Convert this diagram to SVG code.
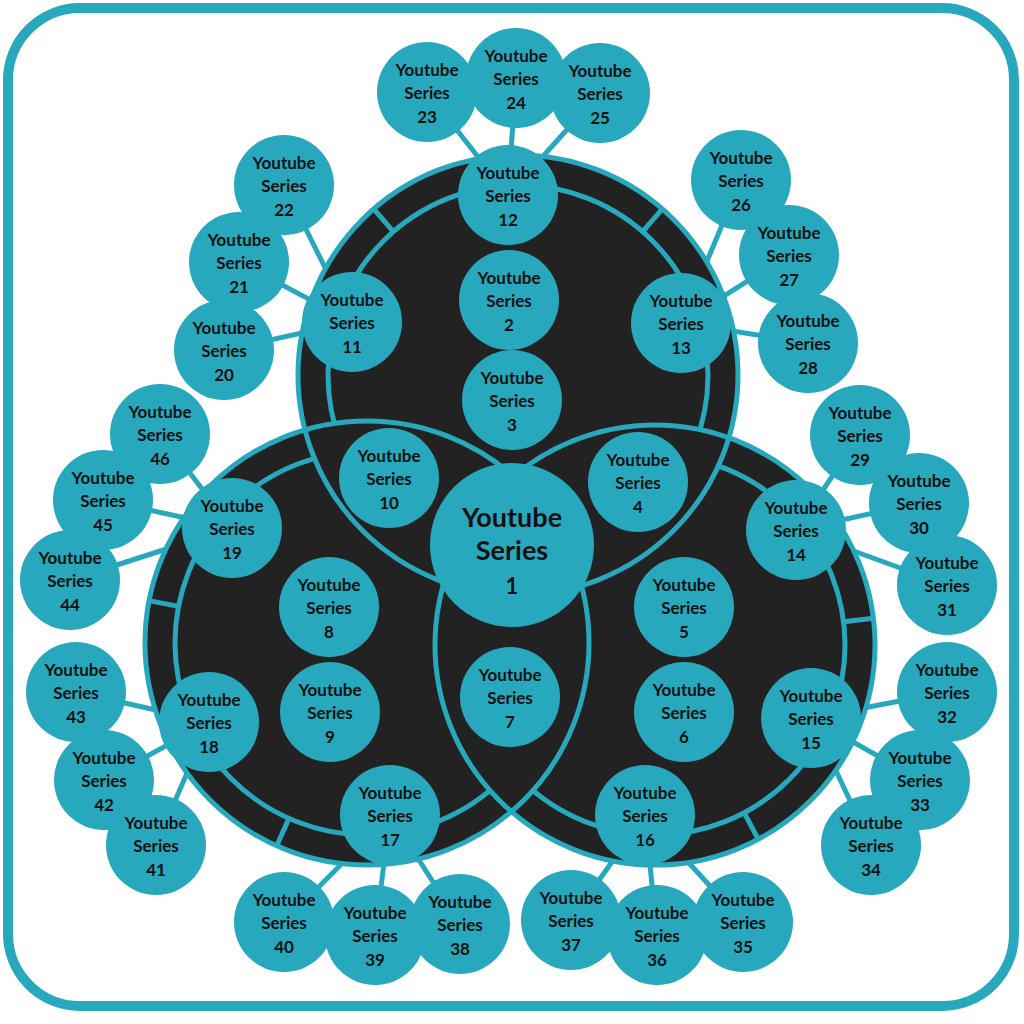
<svg xmlns="http://www.w3.org/2000/svg" width="1024" height="1024" viewBox="0 0 1024 1024">
<style>
.n{fill:#27a8bd}
.t{font-family:Lato,"Open Sans",sans-serif;font-weight:bold;font-size:17px;fill:#111;text-anchor:middle}
.big{fill:#222}
.ring{fill:none;stroke:#27a8bd;stroke-width:5}
.seg{stroke:#27a8bd;stroke-width:5}
.c line{stroke:#27a8bd;stroke-width:5}
</style>
<defs>
<mask id="mT"><rect width="1024" height="1024" fill="#fff"/><circle cx="367" cy="643" r="222"/><circle cx="655" cy="645" r="220"/></mask>
<mask id="mL"><rect width="1024" height="1024" fill="#fff"/><circle cx="518" cy="375" r="220"/><circle cx="655" cy="645" r="220"/></mask>
<mask id="mR"><rect width="1024" height="1024" fill="#fff"/><circle cx="518" cy="375" r="220"/><circle cx="367" cy="643" r="222"/></mask>
</defs>
<rect width="1024" height="1024" fill="#fff"/>
<rect x="8" y="8" width="1006" height="998" rx="72" fill="none" stroke="#27a8bd" stroke-width="10"/>
<g class="c">
<line x1="427" y1="92" x2="508" y2="195"/><line x1="516" y1="78" x2="508" y2="195"/><line x1="600" y1="93" x2="508" y2="195"/>
<line x1="224" y1="350" x2="352" y2="322"/><line x1="239" y1="262" x2="352" y2="322"/><line x1="284" y1="185" x2="352" y2="322"/>
<line x1="741" y1="180" x2="681" y2="323"/><line x1="789" y1="255" x2="681" y2="323"/><line x1="808" y1="343" x2="681" y2="323"/>
<line x1="860" y1="435" x2="796" y2="530"/><line x1="919" y1="503" x2="796" y2="530"/><line x1="947" y1="585" x2="796" y2="530"/>
<line x1="947" y1="692" x2="811" y2="718"/><line x1="920" y1="780" x2="811" y2="718"/><line x1="871" y1="845" x2="811" y2="718"/>
<line x1="743" y1="922" x2="645" y2="815"/><line x1="657" y1="935" x2="645" y2="815"/><line x1="571" y1="920" x2="645" y2="815"/>
<line x1="460" y1="924" x2="390" y2="815"/><line x1="375" y1="935" x2="390" y2="815"/><line x1="284" y1="922" x2="390" y2="815"/>
<line x1="156" y1="845" x2="209" y2="722"/><line x1="104" y1="780" x2="209" y2="722"/><line x1="76" y1="692" x2="209" y2="722"/>
<line x1="70" y1="580" x2="232" y2="528"/><line x1="103" y1="500" x2="232" y2="528"/><line x1="160" y1="434" x2="232" y2="528"/>
</g>
<g id="circles">
<circle class="big" cx="518" cy="375" r="220"/>
<circle class="big" cx="367" cy="643" r="222"/>
<circle class="big" cx="655" cy="645" r="220"/>
<circle class="ring" cx="518" cy="375" r="220"/>
<circle class="ring" cx="367" cy="643" r="222"/>
<circle class="ring" cx="655" cy="645" r="220"/>
<circle class="ring" cx="518" cy="375" r="190" mask="url(#mT)"/>
<circle class="ring" cx="367" cy="643" r="192" mask="url(#mL)"/>
<circle class="ring" cx="655" cy="645" r="190" mask="url(#mR)"/>
<g transform="translate(518 375)"><line class="seg" x1="190" y1="0" x2="220" y2="0" transform="rotate(-131)"/><line class="seg" x1="190" y1="0" x2="220" y2="0" transform="rotate(-49)"/></g>
<g transform="translate(367 643)"><line class="seg" x1="192" y1="0" x2="222" y2="0" transform="rotate(191)"/><line class="seg" x1="192" y1="0" x2="222" y2="0" transform="rotate(114)"/></g>
<g transform="translate(655 645)"><line class="seg" x1="190" y1="0" x2="220" y2="0" transform="rotate(62)"/><line class="seg" x1="190" y1="0" x2="220" y2="0" transform="rotate(-7)"/></g>
</g>
<g id="n1"><circle class="n" cx="512" cy="545" r="82"/><text class="t" style="font-size:27px" x="512" y="527">Youtube</text><text class="t" style="font-size:27px" x="512" y="560">Series</text><text class="t" style="font-size:22px" x="512" y="594">1</text></g>
<g id="n2"><circle class="n" cx="509" cy="300" r="50"/><text class="t" x="509" y="284">Youtube</text><text class="t" x="509" y="307">Series</text><text class="t" x="509" y="331">2</text></g>
<g id="n3"><circle class="n" cx="512" cy="400" r="50"/><text class="t" x="512" y="384">Youtube</text><text class="t" x="512" y="407">Series</text><text class="t" x="512" y="431">3</text></g>
<g id="n4"><circle class="n" cx="638" cy="482" r="50"/><text class="t" x="638" y="466">Youtube</text><text class="t" x="638" y="489">Series</text><text class="t" x="638" y="513">4</text></g>
<g id="n5"><circle class="n" cx="684" cy="607" r="50"/><text class="t" x="684" y="591">Youtube</text><text class="t" x="684" y="614">Series</text><text class="t" x="684" y="638">5</text></g>
<g id="n6"><circle class="n" cx="684" cy="712" r="50"/><text class="t" x="684" y="696">Youtube</text><text class="t" x="684" y="719">Series</text><text class="t" x="684" y="743">6</text></g>
<g id="n7"><circle class="n" cx="510" cy="697" r="50"/><text class="t" x="510" y="681">Youtube</text><text class="t" x="510" y="704">Series</text><text class="t" x="510" y="728">7</text></g>
<g id="n8"><circle class="n" cx="329" cy="607" r="50"/><text class="t" x="329" y="591">Youtube</text><text class="t" x="329" y="614">Series</text><text class="t" x="329" y="638">8</text></g>
<g id="n9"><circle class="n" cx="330" cy="712" r="50"/><text class="t" x="330" y="696">Youtube</text><text class="t" x="330" y="719">Series</text><text class="t" x="330" y="743">9</text></g>
<g id="n10"><circle class="n" cx="389" cy="478" r="50"/><text class="t" x="389" y="462">Youtube</text><text class="t" x="389" y="485">Series</text><text class="t" x="389" y="509">10</text></g>
<g id="n11"><circle class="n" cx="352" cy="322" r="50"/><text class="t" x="352" y="306">Youtube</text><text class="t" x="352" y="329">Series</text><text class="t" x="352" y="353">11</text></g>
<g id="n12"><circle class="n" cx="508" cy="195" r="50"/><text class="t" x="508" y="179">Youtube</text><text class="t" x="508" y="202">Series</text><text class="t" x="508" y="226">12</text></g>
<g id="n13"><circle class="n" cx="681" cy="323" r="50"/><text class="t" x="681" y="307">Youtube</text><text class="t" x="681" y="330">Series</text><text class="t" x="681" y="354">13</text></g>
<g id="n14"><circle class="n" cx="796" cy="530" r="50"/><text class="t" x="796" y="514">Youtube</text><text class="t" x="796" y="537">Series</text><text class="t" x="796" y="561">14</text></g>
<g id="n15"><circle class="n" cx="811" cy="718" r="50"/><text class="t" x="811" y="702">Youtube</text><text class="t" x="811" y="725">Series</text><text class="t" x="811" y="749">15</text></g>
<g id="n16"><circle class="n" cx="645" cy="815" r="50"/><text class="t" x="645" y="799">Youtube</text><text class="t" x="645" y="822">Series</text><text class="t" x="645" y="846">16</text></g>
<g id="n17"><circle class="n" cx="390" cy="815" r="50"/><text class="t" x="390" y="799">Youtube</text><text class="t" x="390" y="822">Series</text><text class="t" x="390" y="846">17</text></g>
<g id="n18"><circle class="n" cx="209" cy="722" r="50"/><text class="t" x="209" y="706">Youtube</text><text class="t" x="209" y="729">Series</text><text class="t" x="209" y="753">18</text></g>
<g id="n19"><circle class="n" cx="232" cy="528" r="50"/><text class="t" x="232" y="512">Youtube</text><text class="t" x="232" y="535">Series</text><text class="t" x="232" y="559">19</text></g>
<g id="n20"><circle class="n" cx="224" cy="350" r="50"/><text class="t" x="224" y="334">Youtube</text><text class="t" x="224" y="357">Series</text><text class="t" x="224" y="381">20</text></g>
<g id="n21"><circle class="n" cx="239" cy="262" r="50"/><text class="t" x="239" y="246">Youtube</text><text class="t" x="239" y="269">Series</text><text class="t" x="239" y="293">21</text></g>
<g id="n22"><circle class="n" cx="284" cy="185" r="50"/><text class="t" x="284" y="169">Youtube</text><text class="t" x="284" y="192">Series</text><text class="t" x="284" y="216">22</text></g>
<g id="n23"><circle class="n" cx="427" cy="92" r="50"/><text class="t" x="427" y="76">Youtube</text><text class="t" x="427" y="99">Series</text><text class="t" x="427" y="123">23</text></g>
<g id="n25"><circle class="n" cx="600" cy="93" r="50"/><text class="t" x="600" y="77">Youtube</text><text class="t" x="600" y="100">Series</text><text class="t" x="600" y="124">25</text></g>
<g id="n24"><circle class="n" cx="516" cy="78" r="50"/><text class="t" x="516" y="62">Youtube</text><text class="t" x="516" y="85">Series</text><text class="t" x="516" y="109">24</text></g>
<g id="n26"><circle class="n" cx="741" cy="180" r="50"/><text class="t" x="741" y="164">Youtube</text><text class="t" x="741" y="187">Series</text><text class="t" x="741" y="211">26</text></g>
<g id="n27"><circle class="n" cx="789" cy="255" r="50"/><text class="t" x="789" y="239">Youtube</text><text class="t" x="789" y="262">Series</text><text class="t" x="789" y="286">27</text></g>
<g id="n28"><circle class="n" cx="808" cy="343" r="50"/><text class="t" x="808" y="327">Youtube</text><text class="t" x="808" y="350">Series</text><text class="t" x="808" y="374">28</text></g>
<g id="n29"><circle class="n" cx="860" cy="435" r="50"/><text class="t" x="860" y="419">Youtube</text><text class="t" x="860" y="442">Series</text><text class="t" x="860" y="466">29</text></g>
<g id="n30"><circle class="n" cx="919" cy="503" r="50"/><text class="t" x="919" y="487">Youtube</text><text class="t" x="919" y="510">Series</text><text class="t" x="919" y="534">30</text></g>
<g id="n31"><circle class="n" cx="947" cy="585" r="50"/><text class="t" x="947" y="569">Youtube</text><text class="t" x="947" y="592">Series</text><text class="t" x="947" y="616">31</text></g>
<g id="n32"><circle class="n" cx="947" cy="692" r="50"/><text class="t" x="947" y="676">Youtube</text><text class="t" x="947" y="699">Series</text><text class="t" x="947" y="723">32</text></g>
<g id="n33"><circle class="n" cx="920" cy="780" r="50"/><text class="t" x="920" y="764">Youtube</text><text class="t" x="920" y="787">Series</text><text class="t" x="920" y="811">33</text></g>
<g id="n34"><circle class="n" cx="871" cy="845" r="50"/><text class="t" x="871" y="829">Youtube</text><text class="t" x="871" y="852">Series</text><text class="t" x="871" y="876">34</text></g>
<g id="n35"><circle class="n" cx="743" cy="922" r="50"/><text class="t" x="743" y="906">Youtube</text><text class="t" x="743" y="929">Series</text><text class="t" x="743" y="953">35</text></g>
<g id="n37"><circle class="n" cx="571" cy="920" r="50"/><text class="t" x="571" y="904">Youtube</text><text class="t" x="571" y="927">Series</text><text class="t" x="571" y="951">37</text></g>
<g id="n36"><circle class="n" cx="657" cy="935" r="50"/><text class="t" x="657" y="919">Youtube</text><text class="t" x="657" y="942">Series</text><text class="t" x="657" y="966">36</text></g>
<g id="n38"><circle class="n" cx="460" cy="924" r="50"/><text class="t" x="460" y="908">Youtube</text><text class="t" x="460" y="931">Series</text><text class="t" x="460" y="955">38</text></g>
<g id="n40"><circle class="n" cx="284" cy="922" r="50"/><text class="t" x="284" y="906">Youtube</text><text class="t" x="284" y="929">Series</text><text class="t" x="284" y="953">40</text></g>
<g id="n39"><circle class="n" cx="375" cy="935" r="50"/><text class="t" x="375" y="919">Youtube</text><text class="t" x="375" y="942">Series</text><text class="t" x="375" y="966">39</text></g>
<g id="n42"><circle class="n" cx="104" cy="780" r="50"/><text class="t" x="104" y="764">Youtube</text><text class="t" x="104" y="787">Series</text><text class="t" x="104" y="811">42</text></g>
<g id="n41"><circle class="n" cx="156" cy="845" r="50"/><text class="t" x="156" y="829">Youtube</text><text class="t" x="156" y="852">Series</text><text class="t" x="156" y="876">41</text></g>
<g id="n43"><circle class="n" cx="76" cy="692" r="50"/><text class="t" x="76" y="676">Youtube</text><text class="t" x="76" y="699">Series</text><text class="t" x="76" y="723">43</text></g>
<g id="n44"><circle class="n" cx="70" cy="580" r="50"/><text class="t" x="70" y="564">Youtube</text><text class="t" x="70" y="587">Series</text><text class="t" x="70" y="611">44</text></g>
<g id="n45"><circle class="n" cx="103" cy="500" r="50"/><text class="t" x="103" y="484">Youtube</text><text class="t" x="103" y="507">Series</text><text class="t" x="103" y="531">45</text></g>
<g id="n46"><circle class="n" cx="160" cy="434" r="50"/><text class="t" x="160" y="418">Youtube</text><text class="t" x="160" y="441">Series</text><text class="t" x="160" y="465">46</text></g>
</svg>
